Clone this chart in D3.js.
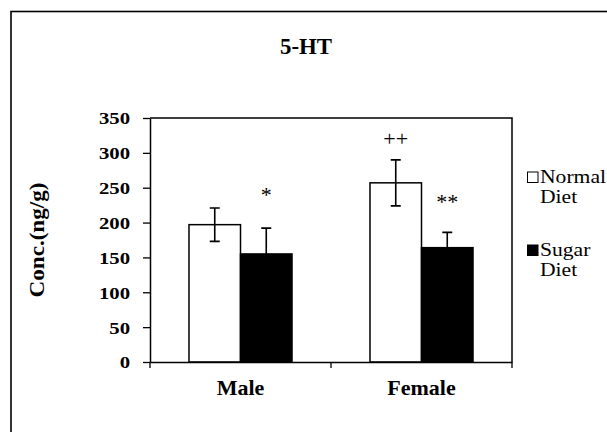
<!DOCTYPE html>
<html><head><meta charset="utf-8">
<script src="https://cdn.jsdelivr.net/npm/d3@7"></script>
<style>body{margin:0;background:#fff}svg{display:block}
svg text{font-family:"Liberation Serif","Times New Roman","DejaVu Serif",serif !important;}</style>
</head><body><svg id="c" width="607" height="432"></svg>
<script>
const categories = ["Male", "Female"];
const seriesNames = ["Normal", "Sugar"];
const legendLines = [["Normal", "Diet"], ["Sugar", "Diet"]];
const normalDiet = [197, 257];
const normalErr = [24, 33];
const sugarDiet = [155, 164];
const sugarErr = [37, 22];
// significance marks: text and its baseline height in data units, per category
const normalMarks = ["", "++"];
const normalMarkY = [0, 310];
const sugarMarks = ["*", "**"];
const sugarMarkY = [229, 219];
const yTicks = [0, 50, 100, 150, 200, 250, 300, 350];
const chartTitle = "5-HT";
const yTitle = "Conc.(ng/g)";

const svg = d3.select("#c");
const fills = ["#fff", "#000"];

function stretch(sel, k) {
  sel.each(function() {
    const w = this.getComputedTextLength();
    d3.select(this).attr("textLength", w * k).attr("lengthAdjust", "spacingAndGlyphs");
  });
}

// outer frame
svg.append("rect").attr("x", 11).attr("y", 11.5).attr("width", 700).attr("height", 600)
  .attr("fill", "#fff").attr("stroke", "#000").attr("stroke-width", 1.6);

const L = 150, R = 512, T = 118, B = 362;
const y = d3.scaleLinear().domain([0, 350]).range([B, T]);
const x0 = d3.scaleBand().domain(categories).range([L, R]).paddingInner(0).paddingOuter(0);
const x1 = d3.scaleBand().domain(seriesNames).range([0, x0.bandwidth()]).paddingInner(0).paddingOuter(0.757);

// plot border (top + right)
svg.append("path").attr("d", `M${L},${T}H${R}V${B}`).attr("fill", "none").attr("stroke", "#000").attr("stroke-width", 1.5);

// title
svg.append("text").attr("x", 306).attr("y", 54).attr("text-anchor", "middle")
  .attr("font-weight", "bold").attr("font-size", 24)
  .attr("textLength", 52).attr("lengthAdjust", "spacingAndGlyphs").text(chartTitle);

// data table
const rows = categories.map((c, i) => ({
  cat: c,
  vals: [
    {s: seriesNames[0], v: normalDiet[i], e: normalErr[i], m: normalMarks[i], my: normalMarkY[i], f: fills[0]},
    {s: seriesNames[1], v: sugarDiet[i], e: sugarErr[i], m: sugarMarks[i], my: sugarMarkY[i], f: fills[1]}
  ]
}));

const g = svg.append("g");
const grp = g.selectAll("g.cat").data(rows).join("g").attr("transform", d => `translate(${x0(d.cat)},0)`);
grp.selectAll("rect").data(d => d.vals).join("rect")
  .attr("x", d => x1(d.s)).attr("width", x1.bandwidth())
  .attr("y", d => y(d.v)).attr("height", d => y(0) - y(d.v))
  .attr("fill", d => d.f).attr("stroke", "#000").attr("stroke-width", 1.5);

// error bars
const eb = grp.selectAll("g.eb").data(d => d.vals).join("g")
  .attr("stroke", "#000").attr("stroke-width", 1.6).attr("fill", "none");
eb.append("path").attr("d", d => {
  const cx = x1(d.s) + x1.bandwidth() / 2;
  const t = y(d.v + d.e), b = y(d.v - d.e);
  return `M${cx},${t}V${b}M${cx - 5},${t}H${cx + 5}M${cx - 5},${b}H${cx + 5}`;
});

// significance marks
const mk = grp.selectAll("text.mk").data(d => d.vals.filter(v => v.m)).join("text")
  .attr("x", d => x1(d.s) + x1.bandwidth() / 2).attr("y", d => y(d.my))
  .attr("text-anchor", "middle").attr("font-size", 20).text(d => d.m);
stretch(mk, 1.1);

// y axis
const ya = svg.append("g").attr("transform", `translate(${L},0)`)
  .call(d3.axisLeft(y).tickValues(yTicks).tickSize(7).tickPadding(13).tickSizeOuter(0));
ya.select(".domain").attr("stroke-width", 1.5);
ya.selectAll(".tick line").attr("stroke-width", 1.3);
const yt = ya.selectAll("text").attr("font-weight", "bold").attr("font-size", 17)
  .attr("fill", "#000").attr("dy", "0.35em");
stretch(yt, 1.22);

// x axis
const xa = svg.append("g").attr("transform", `translate(0,${B})`)
  .call(d3.axisBottom(x0).tickSize(0).tickPadding(17));
xa.select(".domain").attr("stroke-width", 1.5);
xa.selectAll("text").attr("font-weight", "bold").attr("font-size", 22).attr("fill", "#000");
// category boundary ticks
xa.selectAll("line.bt").data([...categories.map(c => x0(c)), R]).join("line").attr("class", "bt")
  .attr("x1", d => d).attr("x2", d => d).attr("y1", 0).attr("y2", 6).attr("stroke", "#000").attr("stroke-width", 1.3);

// y title
svg.append("text").attr("transform", `translate(44,240) rotate(-90)`).attr("text-anchor", "middle")
  .attr("font-weight", "bold").attr("font-size", 20)
  .attr("textLength", 115).attr("lengthAdjust", "spacingAndGlyphs").text(yTitle);

// legend
const legY = [183, 256];
const leg = svg.selectAll("g.leg").data(seriesNames).join("g").attr("class", "leg");
leg.append("rect").attr("x", 527.5).attr("y", (d, i) => legY[i] - 11).attr("width", 10.5).attr("height", 10.5)
  .attr("fill", (d, i) => fills[i]).attr("stroke", "#000").attr("stroke-width", 1);
leg.each(function(d, i) {
  legendLines[i].forEach((ln, k) => {
    const t = d3.select(this).append("text").attr("font-size", 18).attr("fill", "#000")
      .attr("x", 540).attr("y", legY[i] + k * 19.5).text(ln);
    stretch(t, 1.2);
  });
});
</script></body></html>
